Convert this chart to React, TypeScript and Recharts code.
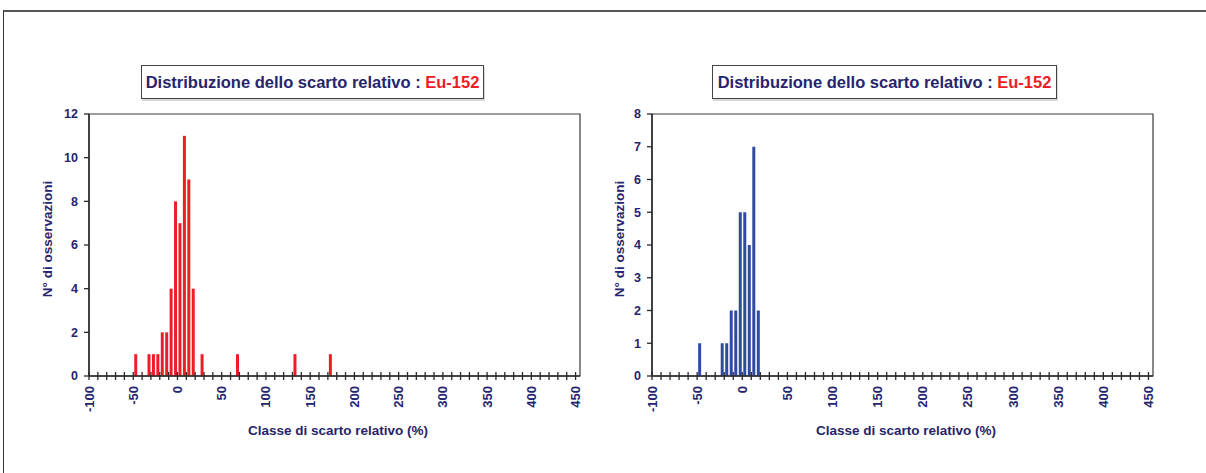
import { BarChart, Bar, XAxis, YAxis, ReferenceArea } from 'recharts'

// classi di scarto relativo (limite inferiore, ampiezza 5 %) e n° di osservazioni
const CLASSES_LEFT = [-50, -35, -30, -25, -20, -15, -10, -5, 0, 5, 10, 15, 25, 65, 130, 170]
const COUNTS_LEFT = [1, 1, 1, 1, 2, 2, 4, 8, 7, 11, 9, 4, 1, 1, 1, 1]

const CLASSES_RIGHT = [-50, -25, -20, -15, -10, -5, 0, 5, 10, 15]
const COUNTS_RIGHT = [1, 1, 1, 2, 2, 5, 5, 4, 7, 2]

const X_LABELS = [-100, -50, 0, 50, 100, 150, 200, 250, 300, 350, 400, 450]
const Y_TICKS_LEFT = [0, 2, 4, 6, 8, 10, 12]
const Y_TICKS_RIGHT = [0, 1, 2, 3, 4, 5, 6, 7, 8]

const CLASS_WIDTH = 5
const X_DOMAIN: [number, number] = [-100, 455]
// tacche minori ogni 10 %
const X_TICKS = Array.from({ length: 56 }, (_, i) => -100 + i * 10)

const NAVY = '#25256d'
const AXIS = '#2a2a2a'
const FONT = '"Liberation Sans", Arial, sans-serif'

const TITLE = 'Distribuzione dello scarto relativo : '
const ISOTOPE = 'Eu-152'
const X_TITLE = 'Classe di scarto relativo (%)'
const Y_TITLE = 'N° di osservazioni'

function toRows(classes: number[], counts: number[]) {
  return classes.map((c, i) => ({ mid: c + CLASS_WIDTH / 2, count: counts[i] }))
}

function XTick({ x, y, payload }: any) {
  const v = payload.value
  const ty = y + 10
  return (
    <g>
      <line x1={x} x2={x} y1={y - 4} y2={y + 4} stroke={AXIS} strokeWidth={1.3} />
      {X_LABELS.includes(v) && (
        <text
          x={x}
          y={ty}
          transform={`rotate(-90 ${x} ${ty})`}
          textAnchor="end"
          dominantBaseline="central"
          fill={NAVY}
          fontSize={13}
          fontWeight={700}
          fontFamily={FONT}
        >
          {v}
        </text>
      )}
    </g>
  )
}

function Histogram({ rows, color, yMax, yTicks, marginRight }: any) {
  return (
    <BarChart
      width={600}
      height={473}
      data={rows}
      margin={{ top: 114, right: marginRight, bottom: 37, left: 0 }}
    >
      <ReferenceArea x1={X_DOMAIN[0]} x2={X_DOMAIN[1]} y1={0} y2={yMax} fill="none" stroke="#3a3a3a" strokeWidth={1.2} />
      <XAxis
        dataKey="mid"
        type="number"
        domain={X_DOMAIN}
        ticks={X_TICKS}
        interval={0}
        height={60}
        tickSize={0}
        tickMargin={0}
        tickLine={false}
        axisLine={{ stroke: AXIS, strokeWidth: 1.5 }}
        tick={<XTick />}
      />
      <YAxis
        type="number"
        domain={[0, yMax]}
        ticks={yTicks}
        interval={0}
        width={89}
        tickSize={5}
        tickMargin={6}
        tickLine={{ stroke: AXIS, strokeWidth: 1.3 }}
        axisLine={{ stroke: AXIS, strokeWidth: 1.5 }}
        tick={{ fill: NAVY, fontSize: 12.5, fontWeight: 700, fontFamily: FONT }}
      />
      <Bar dataKey="count" fill={color} barSize={3} isAnimationActive={false} />
    </BarChart>
  )
}

function TitleBox({ left, width }: { left: number; width: number }) {
  return (
    <div
      style={{
        position: 'absolute',
        left,
        top: 65,
        width,
        height: 34,
        boxSizing: 'border-box',
        border: '1px solid #444',
        boxShadow: '1px 2px 0 #d8d8d8',
        display: 'flex',
        alignItems: 'center',
        justifyContent: 'center',
        fontFamily: FONT,
        fontWeight: 700,
        fontSize: 16.5,
        color: NAVY,
        background: '#fff',
        whiteSpace: 'pre',
      }}
    >
      {TITLE}
      <span style={{ color: '#ee1c25' }}>{ISOTOPE}</span>
    </div>
  )
}

function AxisTitle({ cx, cy, text, rotate }: { cx: number; cy: number; text: string; rotate?: boolean }) {
  return (
    <div
      style={{
        position: 'absolute',
        left: cx,
        top: cy,
        transform: `translate(-50%, -50%)${rotate ? ' rotate(-90deg)' : ''}`,
        whiteSpace: 'nowrap',
        fontFamily: FONT,
        fontWeight: 700,
        fontSize: 13.5,
        color: NAVY,
      }}
    >
      {text}
    </div>
  )
}

export default function App() {
  return (
    <div style={{ position: 'absolute', left: 0, top: 0, width: 1206, height: 473, background: '#fff', overflow: 'hidden' }}>
      {/* cornice esterna */}
      <div
        style={{
          position: 'absolute',
          left: 3,
          top: 10,
          width: 1203,
          height: 463,
          borderTop: '2px solid #555',
          borderLeft: '1px solid #333',
          boxSizing: 'border-box',
        }}
      />
      <div style={{ position: 'absolute', left: 0, top: 0 }}>
        <Histogram rows={toRows(CLASSES_LEFT, COUNTS_LEFT)} color="#ee1c25" yMax={12} yTicks={Y_TICKS_LEFT} marginRight={20} />
      </div>
      <div style={{ position: 'absolute', left: 563, top: 0 }}>
        <Histogram rows={toRows(CLASSES_RIGHT, COUNTS_RIGHT)} color="#2f4b9f" yMax={8} yTicks={Y_TICKS_RIGHT} marginRight={10} />
      </div>
      <TitleBox left={141} width={343} />
      <TitleBox left={712} width={345} />
      <AxisTitle cx={47} cy={239} text={Y_TITLE} rotate />
      <AxisTitle cx={619} cy={239} text={Y_TITLE} rotate />
      <AxisTitle cx={338} cy={430} text={X_TITLE} />
      <AxisTitle cx={906} cy={430} text={X_TITLE} />
    </div>
  )
}
